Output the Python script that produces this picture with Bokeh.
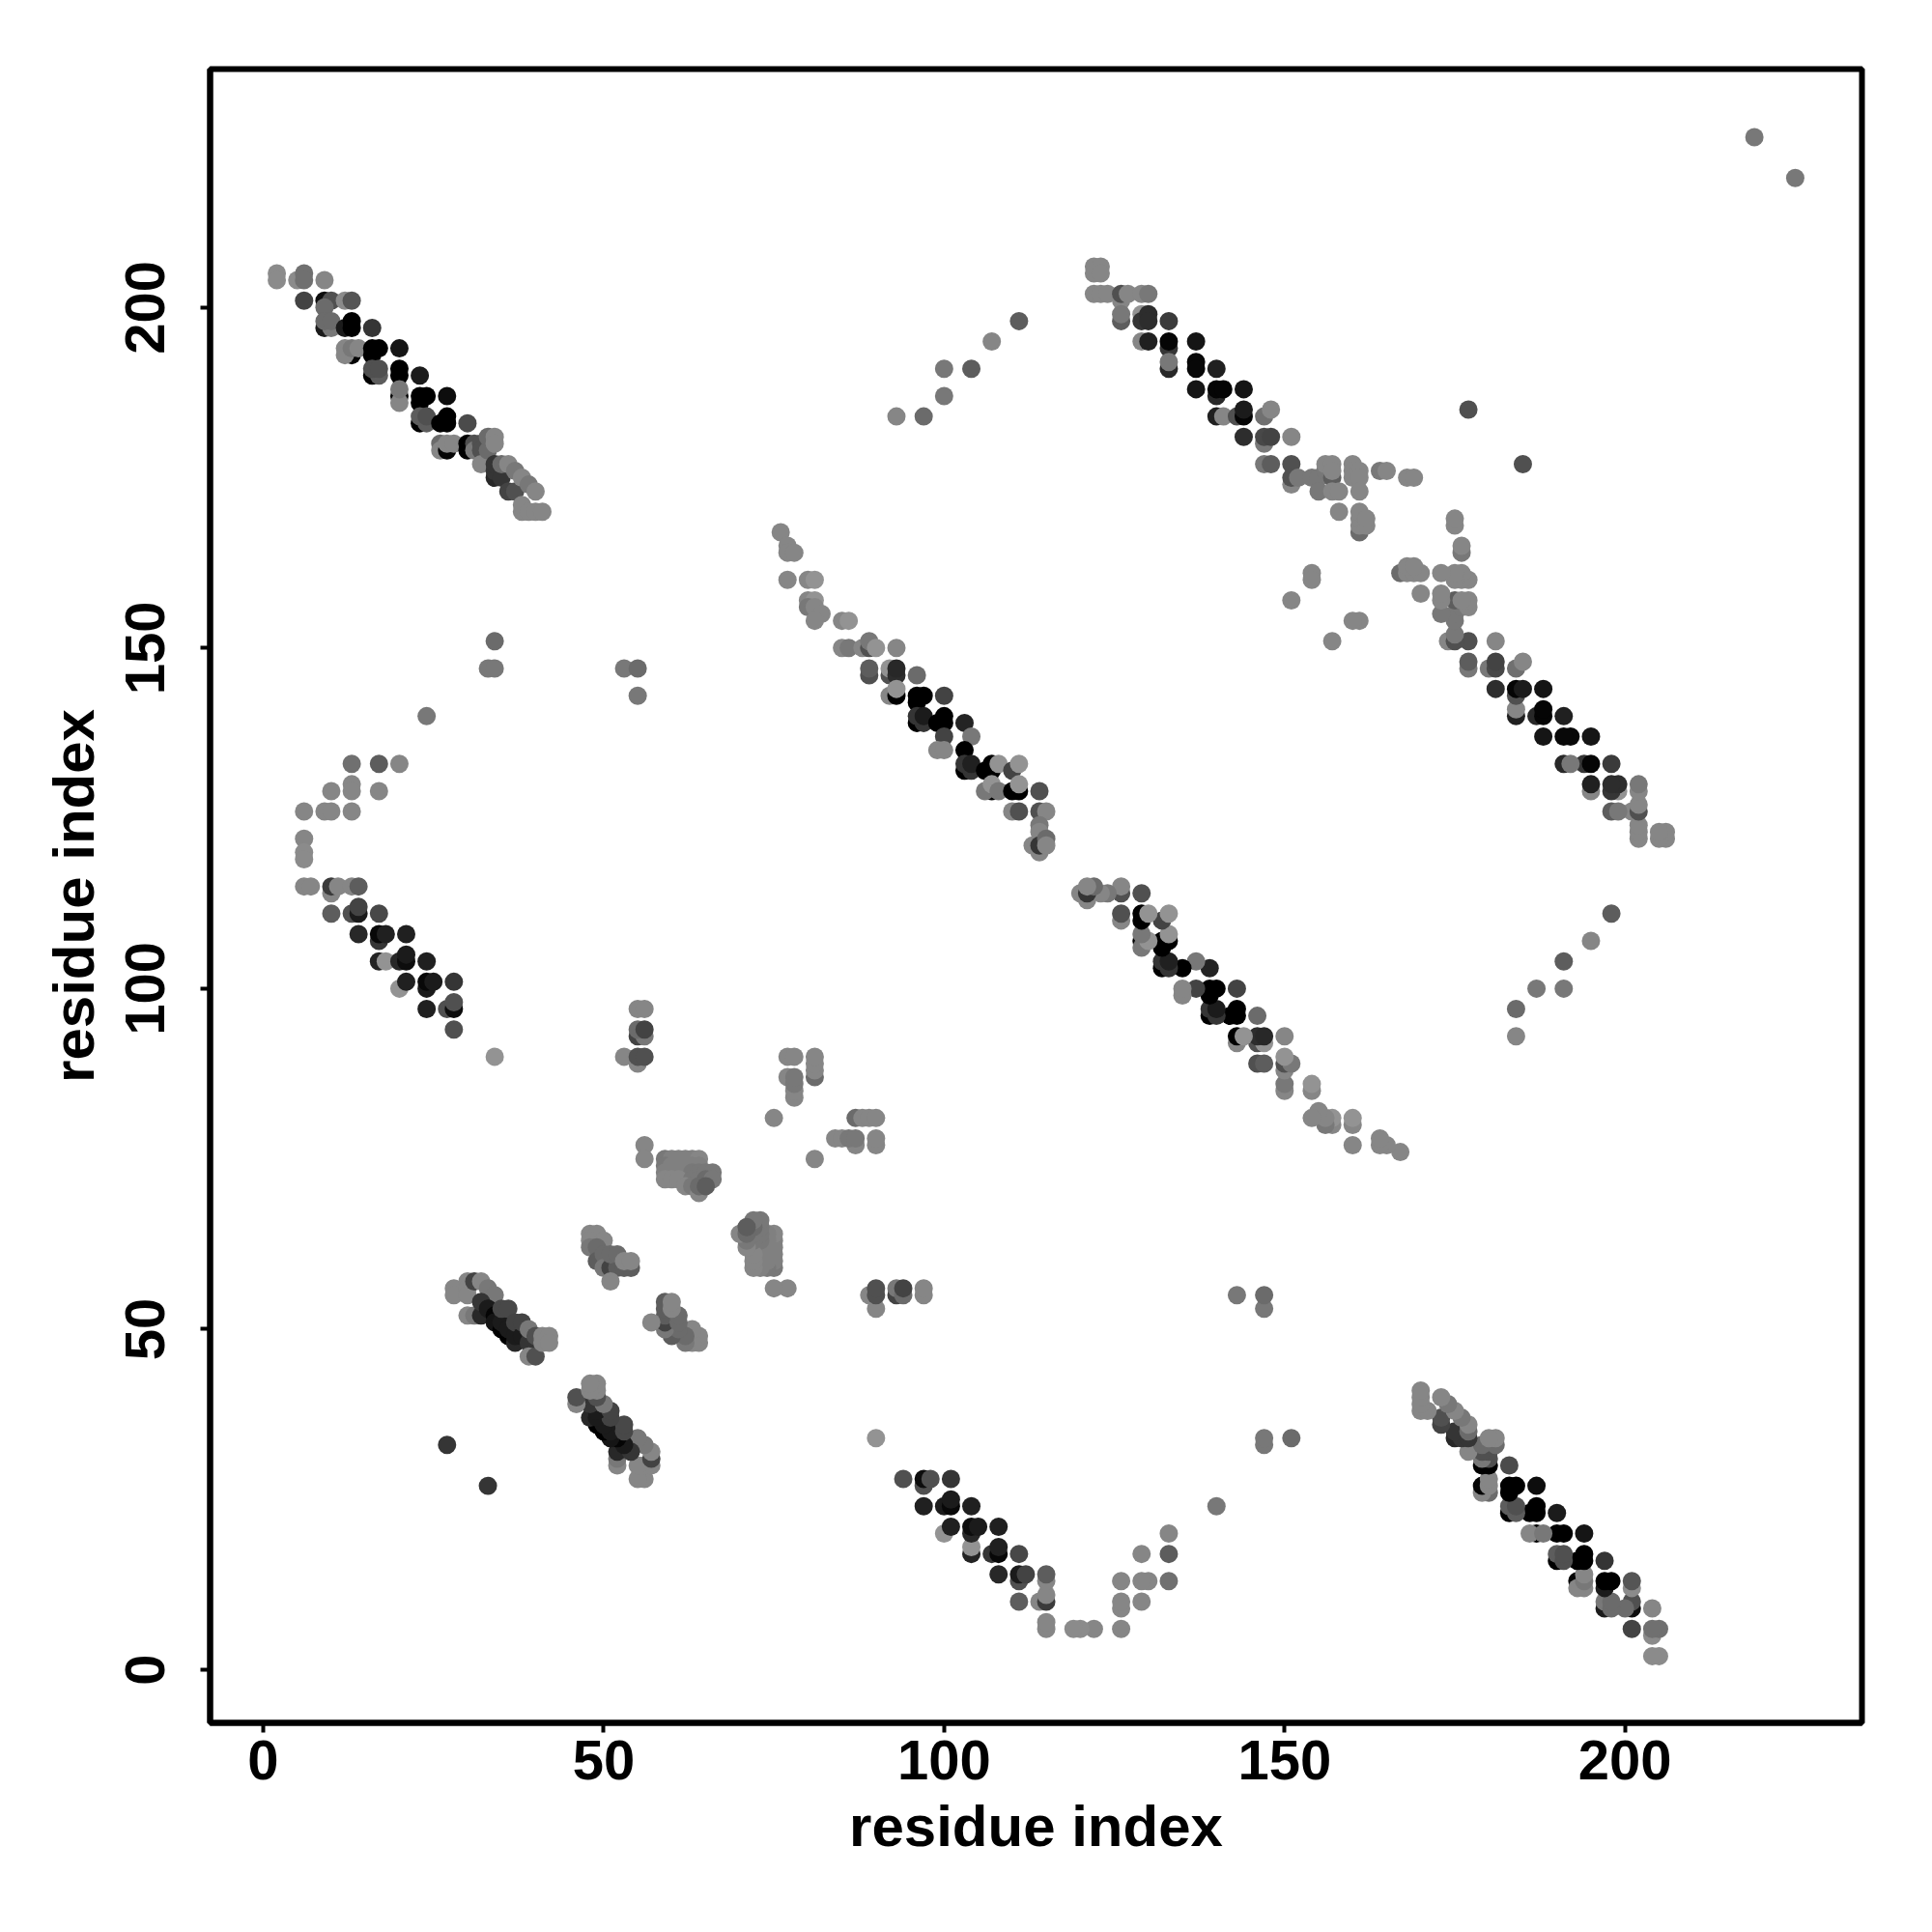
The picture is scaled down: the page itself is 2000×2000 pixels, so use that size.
from bokeh.plotting import figure
from bokeh.embed import file_html
from bokeh.resources import INLINE
from bokeh.models import FixedTicker, Range1d, ColumnDataSource

# Contacts (residue i, residue j, grey level); the map is symmetric, so only i < j is listed.
band_a = [
 (2,205,.52),(2,204,.52),(5,204,.52),(6,205,.42),(6,204,.42),(9,204,.5),
 (6,201,.25),(9,201,.05),(10,201,.3),(12,201,.52),(13,201,.32),(9,200,.4),
 (9,197,.1),(10,197,.45),(9,198,.4),(10,198,.4),(12,197,.1),(13,198,0),(13,197,0),(16,197,.2),
 (13,193,.02),(12,194,.5),(12,193,.5),(13,194,.45),(14,194,.5),(16,194,0),(17,194,0),(16,193,0),(20,194,.08),
 (16,190,0),(17,190,.35),(16,191,.3),(17,191,.3),(20,191,0),(20,190,0),(23,190,.1),
 (20,187,0),(20,186,.5),(20,188,.45),(23,187,0),(24,187,0),(23,186,0),(27,187,.05),
 (23,183,0),(24,183,.35),(23,184,.35),(24,184,.3),(26,183,0),(27,184,0),(27,183,0),(30,183,.28),
 (26,180,.4),(26,179,.5),(27,179,.02),(27,180,.5),(28,180,.5),(30,180,0),(30,179,0),(31,180,.3),(31,179,.45),
 (32,180,.3),(32,179,.3),(32,177,.5),(33,179,.4),(33,181,.4),(34,181,.5),(34,180,.5),
 (34,175,.15),(34,176,.2),(34,177,.2),(35,175,.2),(35,177,.4),(36,173,.25),(36,177,.5),(37,173,.3),(37,176,.45),
 (38,175,.5),(39,174,.45),(40,173,.5),(38,170,.5),(38,171,.5),(39,170,.5),(40,170,.5),(41,170,.5),
]
band_b = [
 (6,126,.5),(6,122,.5),(6,120,.52),(6,119,.52),(6,115,.5),(7,115,.5),(9,126,.5),(10,126,.5),(13,126,.5),
 (10,129,.5),(13,130,.5),(13,129,.5),(13,133,.42),(17,129,.5),(17,133,.35),(20,133,.5),
 (10,114,.5),(10,115,.22),(11,115,.5),(13,115,.5),(14,115,.35),
 (10,111,.35),(13,111,.3),(14,111,.1),(14,112,.25),(17,111,.27),
 (14,108,.15),(17,107,.2),(17,108,.03),(18,108,.12),(21,108,.12),
 (17,104,.13),(18,104,.55),(20,104,.15),(21,104,.05),(21,105,.1),(24,104,.12),
 (20,100,.55),(21,101,.12),(24,100,.1),(24,101,.03),(25,101,.1),(28,101,.2),
 (24,97,.12),(27,97,.3),(28,97,.05),(28,98,.3),(28,94,.3),(34,90,.55),
]
band_c = [
 (76,167,.5),(77,165,.5),(77,164,.5),(78,164,.5),(77,160,.5),(80,160,.5),(81,160,.55),
 (80,157,.5),(81,157,.55),(80,156,.45),(81,156,.5),(82,155,.5),(81,154,.5),(85,154,.5),(86,154,.55),
 (85,150,.5),(86,150,.45),(88,150,.5),(89,150,.3),(89,151,.45),(90,150,.55),(93,150,.5),
 (89,146,.3),(89,147,.35),(92,146,.3),(92,147,.55),(93,146,.17),(93,147,.15),(96,146,.4),
 (92,143,.5),(93,143,0),(93,144,.55),(96,142,0),(96,143,0),(97,143,0),(100,143,.25),
 (96,139,0),(97,139,.2),(96,140,.2),(97,140,.1),(99,139,0),(100,140,0),(100,139,0),(103,139,.13),
 (100,137,.25),(104,137,.45),(99,135,.5),(100,135,.5),(103,135,0),
 (103,132,0),(104,132,.2),(103,133,.2),(104,133,.12),(106,132,0),(107,133,0),(107,132,0),(108,133,.55),
 (110,132,.25),(111,133,.55),(107,129,0),(106,129,.45),(107,130,.55),(108,129,.45),(110,129,0),(111,129,0),(111,130,.55),(114,129,.3),
 (110,126,.5),(111,126,.3),(114,126,.3),(115,126,.5),(114,124,.45),(114,123,.5),(113,121,.5),(114,120,.5),(114,121,.2),(115,122,.4),(115,121,.5),
]
band_d = [
 (122,206,.5),(123,206,.5),(122,205,.5),(123,205,.5),(122,202,.5),(123,202,.5),(124,202,.5),(126,201,.5),(126,202,.3),(127,202,.5),(129,202,.5),(130,202,.45),
 (126,198,.35),(126,199,.45),(129,199,.55),(129,198,.2),(130,199,.17),(130,198,.17),(133,198,.22),
 (129,195,.5),(130,195,.12),(133,194,.2),(133,195,.02),(137,195,.08),
 (133,191,.15),(133,192,.45),(137,192,.03),(137,191,.03),(140,191,.12),
 (137,188,.08),(140,187,.15),(140,188,.02),(141,188,.02),(144,188,.08),
 (140,184,.12),(141,184,.5),(143,184,.3),(144,184,.02),(144,185,.1),(147,184,.42),(148,185,.5),
 (144,181,.17),(147,180,.45),(147,181,.27),(148,181,.25),(151,181,.5),
 (147,177,.45),(148,177,.35),(151,177,.3),(151,174,.5),(151,175,.3),(152,175,.45),(154,175,.45),(155,175,.45),(155,173,.45),
 (156,176,.45),(157,175,.35),(156,177,.5),(157,177,.5),(157,176,.5),(157,173,.5),(158,173,.5),
 (160,177,.5),(160,176,.5),(161,176,.5),(160,175,.5),(161,175,.5),(161,173,.5),
 (158,170,.5),(161,167,.4),(161,168,.5),(161,169,.5),(161,170,.5),(162,168,.5),(162,169,.5),
 (164,176,.45),(165,176,.5),(168,175,.5),(169,175,.5),
]
band_e = [
 (28,56,.5),(28,55,.5),(30,57,.5),(30,56,.5),(30,55,.5),(31,57,.25),(32,57,.5),(33,56,.45),(34,55,.45),
 (30,52,.5),(31,52,.45),(32,52,.15),(32,54,.2),(33,53,.1),(34,52,.02),(34,51,.08),(35,50,0),(35,51,.1),(35,53,.27),(36,49,0),(36,50,.1),(36,53,.27),
 (37,48,.15),(37,49,.1),(37,51,.25),(38,49,.1),(38,51,.25),(39,48,.2),(39,50,.45),(40,49,.3),(39,46,.5),(40,46,.3),
 (41,49,.5),(42,49,.5),(41,48,.5),(42,48,.5),
]
band_f = [
 (48,64,.5),(49,64,.5),(48,63,.5),(50,63,.5),(48,62,.45),(49,62,.4),(49,60,.35),(50,61,.4),(50,59,.45),
 (51,59,.25),(52,59,.35),(51,61,.4),(52,61,.4),(53,59,.35),(54,59,.35),(53,60,.5),(54,60,.5),(51,57,.5),
]
band_g = [
 (56,77,.5),(56,75,.5),(59,75,.45),(60,75,.48),(61,75,.48),(62,75,.48),(63,75,.48),(64,75,.5),
 (59,74,.45),(60,74,.48),(61,74,.48),(62,74,.48),(63,74,.48),(64,74,.48),(59,73,.48),(60,73,.48),(61,73,.48),(62,73,.48),(63,73,.45),(64,73,.45),
 (59,72,.5),(60,72,.5),(61,72,.5),(63,72,.45),(64,72,.45),(65,73,.45),(66,73,.45),(65,72,.4),(66,72,.45),
 (62,71,.5),(63,71,.45),(64,70,.5),(64,71,.4),(65,71,.35),
]
band_h = [
 (53,90,.5),(55,89,.5),(55,90,.3),(56,90,.3),(55,93,.25),(56,93,.45),(55,94,.4),(56,94,.25),(55,97,.5),(56,97,.5),
 (75,81,.5),(77,87,.5),(77,90,.5),(78,84,.5),(78,85,.5),(78,86,.45),(78,87,.45),(78,90,.5),(81,87,.4),(81,88,.5),(81,89,.5),(81,90,.5),
]
isolated = [
 (34,151,.4),(33,147,.45),(34,147,.45),(24,140,.45),(53,147,.45),(55,147,.4),(55,143,.45),(27,33,.2),
 (93,184,.5),(97,184,.4),(100,187,.45),(100,191,.45),(104,191,.35),(107,195,.5),(111,198,.35),
 (177,185,.3),(151,157,.5),(154,161,.5),(154,160,.5),(219,225,.45),
]
x_ticks = [0, 50, 100, 150, 200]
axis_title = "residue index"

upper = band_a + band_b + band_c + band_d + band_e + band_f + band_g + band_h + isolated
xs = [c[0] for c in upper] + [c[1] for c in upper]
ys = [c[1] for c in upper] + [c[0] for c in upper]
levels = [c[2] for c in upper] * 2
cols = ["#%02x%02x%02x" % ((min(255, round(g * 267)),) * 3) for g in levels]

p = figure(output_backend="svg", toolbar_location=None,
           frame_width=1710, frame_height=1712,
           min_border_left=217, min_border_top=71, min_border_right=40, min_border_bottom=170,
           x_range=Range1d(-7.8, 234.8), y_range=Range1d(-7.8, 235.0))
p.grid.visible = False
p.background_fill_color = "white"
p.outline_line_color = "black"
p.outline_line_width = 6

src = ColumnDataSource(dict(x=xs, y=ys, c=cols))
p.scatter("x", "y", source=src, size=19, fill_color="c", line_color=None, marker="circle")

for ax in (p.xaxis[0], p.yaxis[0]):
    ax.ticker = FixedTicker(ticks=x_ticks)
    ax.axis_label = axis_title
    ax.axis_line_color = "black"
    ax.axis_line_width = 6
    ax.major_tick_line_color = "black"
    ax.major_tick_line_width = 4
    ax.major_tick_out = 10
    ax.major_tick_in = 0
    ax.minor_tick_line_color = None
    ax.major_label_text_font = "Liberation Sans"
    ax.major_label_text_font_style = "bold"
    ax.major_label_text_font_size = "58px"
    ax.major_label_text_color = "black"
    ax.axis_label_text_font = "Liberation Sans"
    ax.axis_label_text_font_style = "bold"
    ax.axis_label_text_font_size = "60px"
    ax.axis_label_text_color = "black"
p.xaxis[0].major_label_standoff = 8
p.xaxis[0].axis_label_standoff = 12
p.yaxis[0].major_label_orientation = "vertical"
p.yaxis[0].major_label_standoff = 37
p.yaxis[0].axis_label_standoff = 18

open("out.html", "w").write(file_html(p, INLINE))
